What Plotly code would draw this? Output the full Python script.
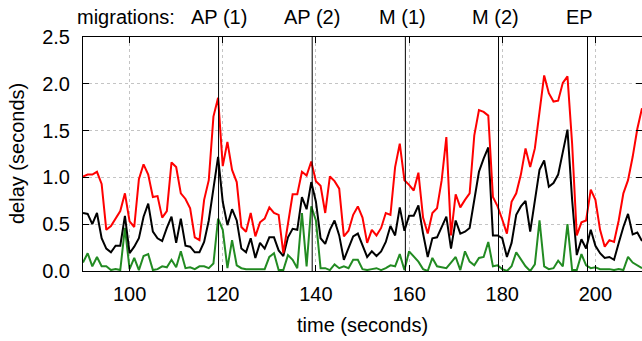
import plotly.graph_objects as go

time = list(range(90, 211))

delay_max = [
    1.01, 1.03, 1.03, 1.06, 0.93, 0.44, 0.48, 0.56, 0.64, 0.83,
    0.53, 0.47, 0.98, 1.14, 1.03, 0.79, 0.80, 0.57, 0.64, 1.16,
    1.11, 0.83, 0.77, 0.67, 0.36, 0.33, 0.76, 0.97, 1.65, 1.85,
    1.12, 1.38, 1.08, 0.95, 0.47, 0.42, 0.62, 0.37, 0.52, 0.56,
    0.68, 0.62, 0.60, 0.19, 0.53, 0.82, 0.82, 1.06, 1.02, 1.17,
    0.96, 0.91, 0.62, 1.01, 0.96, 0.88,
    0.37, 0.43, 0.60, 0.69, 0.57, 0.30, 0.44, 0.38, 0.46, 0.62,
    0.60, 1.11, 1.36, 0.97, 0.92, 0.86, 1.05, 0.57, 0.40, 0.62,
    0.67, 0.97, 1.43, 0.38, 0.82, 0.68, 0.76,
    0.83, 1.45, 1.72, 1.70, 1.66, 0.79, 0.69, 0.55, 0.40, 0.74,
    0.83, 1.03, 1.31, 1.11, 1.31, 1.70, 2.09, 1.90, 1.81, 1.82,
    2.01, 2.08, 1.36, 0.38, 0.52, 0.54, 0.87, 0.76, 0.44, 0.26,
    0.33, 0.31, 0.54, 0.83, 0.97, 1.22, 1.52, 1.74,
]

delay_mean = [
    0.62, 0.61, 0.50, 0.62, 0.35, 0.24, 0.20, 0.27, 0.27, 0.59,
    0.19, 0.26, 0.35, 0.58, 0.72, 0.42, 0.35, 0.32, 0.46, 0.58,
    0.30, 0.56, 0.27, 0.26, 0.20, 0.20, 0.31, 0.54, 0.88, 1.22,
    0.74, 0.49, 0.66, 0.54, 0.24, 0.20, 0.35, 0.14, 0.30, 0.24,
    0.36, 0.36, 0.22, 0.16, 0.36, 0.45, 0.44, 0.79, 0.66, 0.95,
    0.74, 0.35, 0.29,
    0.44, 0.54, 0.38, 0.12, 0.25, 0.37, 0.40, 0.27, 0.15, 0.21,
    0.16, 0.21, 0.31, 0.48, 0.38, 0.68, 0.43, 0.59, 0.59, 0.70,
    0.40, 0.15,
    0.35, 0.36, 0.47, 0.58, 0.24, 0.54, 0.40, 0.42, 0.46, 0.78,
    1.06, 1.20, 1.32, 0.38, 0.38,
    0.35, 0.15, 0.30, 0.60, 0.69, 0.75, 0.42, 0.76, 1.08, 1.18,
    0.90, 0.94, 1.03, 1.27, 1.51, 0.76, 0.17, 0.34, 0.24, 0.44,
    0.27, 0.19, 0.14, 0.15, 0.12, 0.30, 0.47, 0.61, 0.39, 0.41, 0.32,
]

delay_min = [
    0.09, 0.19, 0.05, 0.15, 0.05, 0.05, 0.01, 0.02, 0.01, 0.46,
    0.02, 0.14, 0.01, 0.16, 0.18, 0.01, 0.02, 0.05, 0.04, 0.12,
    0.04, 0.21, 0.03, 0.04, 0.02, 0.05, 0.05, 0.03, 0.08, 0.56,
    0.44, 0.03, 0.33, 0.06, 0.03, 0.02, 0.02, 0.02, 0.02, 0.02,
    0.15, 0.19, 0.01, 0.01, 0.17, 0.12, 0.03, 0.62, 0.05, 0.69,
    0.54, 0.03, 0.03,
    0.01, 0.07, 0.03, 0.05, 0.03, 0.12, 0.12, 0.02, 0.01, 0.02,
    0.03, 0.01, 0.03, 0.06, 0.05, 0.18, 0.01, 0.21, 0.16, 0.10,
    0.02, 0.00,
    0.14, 0.05, 0.04, 0.03, 0.09, 0.15, 0.01, 0.21, 0.10, 0.06,
    0.14, 0.15, 0.31, 0.05, 0.06,
    0.02, 0.00, 0.05, 0.20, 0.12, 0.05, 0.00, 0.07, 0.54, 0.05,
    0.02, 0.03, 0.11, 0.05, 0.50, 0.01, 0.01, 0.18, 0.06, 0.03,
    0.04, 0.02, 0.02, 0.02, 0.01, 0.02, 0.01, 0.15, 0.09, 0.06, 0.03,
]

migration_times = [119.1, 139.2, 159.2, 179.2, 198.3]
migration_labels = ["AP (1)", "AP (2)", "M (1)", "M (2)", "EP"]

x_ticks = [100, 120, 140, 160, 180, 200]
y_ticks = [0.0, 0.5, 1.0, 1.5, 2.0, 2.5]

FONT = "Liberation Sans, Arial, sans-serif"
FS = 20

fig = go.Figure()
fig.add_trace(go.Scatter(x=time, y=delay_min, mode="lines",
                         line=dict(color="#228b22", width=2), showlegend=False))
fig.add_trace(go.Scatter(x=time, y=delay_mean, mode="lines",
                         line=dict(color="#000000", width=2), showlegend=False))
fig.add_trace(go.Scatter(x=time, y=delay_max, mode="lines",
                         line=dict(color="#ff0000", width=2), showlegend=False))

for t in migration_times:
    fig.add_shape(type="line", xref="x", yref="paper", x0=t, x1=t, y0=0, y1=1,
                  line=dict(color="black", width=1))

shifts = [0, 0, -3, -3, -8]
for t, lab, s in zip(migration_times, migration_labels, shifts):
    fig.add_annotation(x=t, xref="x", y=1.0876, yref="paper", text=lab,
                       showarrow=False, xanchor="center", yanchor="middle",
                       xshift=s, font=dict(size=FS, color="black", family=FONT))
fig.add_annotation(x=migration_times[0], xref="x", y=1.0876, yref="paper",
                   text="migrations:", showarrow=False, xanchor="right",
                   yanchor="middle", xshift=-42,
                   font=dict(size=FS, color="black", family=FONT))

# axis titles
fig.add_annotation(x=0.5, xref="paper", y=0, yref="paper", yshift=-54,
                   text="time (seconds)", showarrow=False,
                   xanchor="center", yanchor="middle",
                   font=dict(size=FS, color="black", family=FONT))
fig.add_annotation(x=0, xref="paper", y=0.5, yref="paper", xshift=-66,
                   text="delay (seconds)", showarrow=False, textangle=-90,
                   xanchor="center", yanchor="middle",
                   font=dict(size=FS, color="black", family=FONT))

axis_common = dict(
    showline=True, linecolor="black", linewidth=1, mirror="ticks",
    ticks="inside", ticklen=6, tickcolor="black",
    showgrid=True, gridcolor="#c4c4c4", griddash="dot", gridwidth=1,
    zeroline=False, automargin=False,
    tickfont=dict(size=FS, color="black", family=FONT),
)

fig.update_xaxes(range=[90, 210], tickvals=x_ticks, ticklabelstandoff=5,
                 **axis_common)
fig.update_yaxes(range=[0, 2.5], tickvals=y_ticks, tickformat=".1f",
                 ticklabelstandoff=8, **axis_common)

fig.update_layout(
    width=642, height=341,
    margin=dict(l=83, r=0, t=37, b=70),
    plot_bgcolor="white", paper_bgcolor="white",
    font=dict(family=FONT, color="black"),
    hovermode=False,
)

fig.write_html(
    "out.html",
    config={"displayModeBar": False, "staticPlot": True},
    post_script="document.body.style.margin='0';document.body.style.overflow='hidden';",
)
